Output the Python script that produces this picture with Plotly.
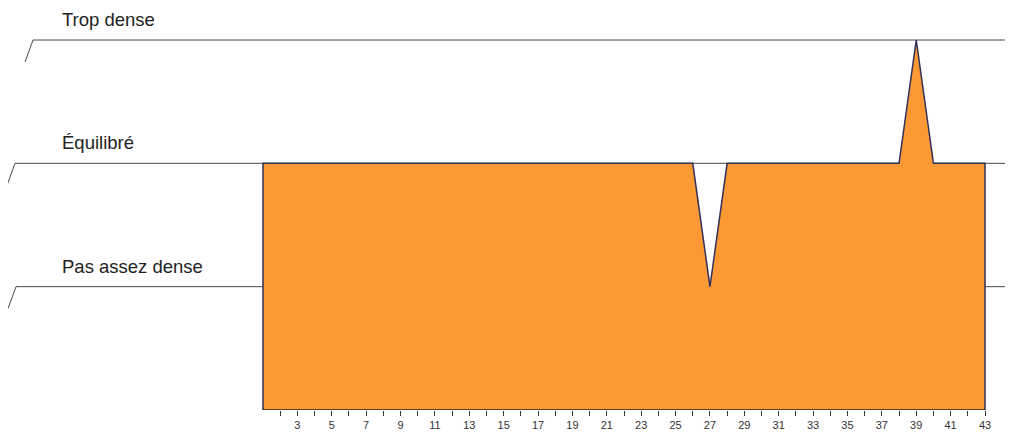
import plotly.graph_objects as go

# data
semaines = list(range(1, 44))
niveaux = [2] * 26 + [1] + [2] * 11 + [3] + [2] * 4
niveaux_noms = ["Pas assez dense", "Équilibré", "Trop dense"]
niveaux_valeurs = [1, 2, 3]
tick_vals = semaines[1:]
tick_text = [str(s) if s % 2 == 1 else "" for s in tick_vals]

# the page body has an 8px margin, so work in figure pixels = page pixels - 8
OFF = 8
W, H = 1013 - OFF, 432 - OFF
x_px_start, x_px_end = 263 - OFF, 985 - OFF
px_per_unit = (x_px_end - x_px_start) / (semaines[-1] - semaines[0])
x_min = semaines[0] - x_px_start / px_per_unit
x_max = semaines[-1] + (W - x_px_end) / px_per_unit

plot_h = 410 - OFF
top_px = 40 - OFF
px_per_y = (plot_h - top_px) / 3
y_max = 3 + top_px / px_per_y

orange = "#FD9935"
edge = "#30305a"
line_col = "#4a4a4a"
text_col = "#222222"

fig = go.Figure()

# closed polygon so the vertical edges of the area get an outline too
poly_x = [semaines[0]] + semaines + [semaines[-1]]
poly_y = [0] + niveaux + [0]
fig.add_trace(go.Scatter(x=poly_x, y=poly_y, mode="lines", fill="toself",
                         fillcolor=orange, line=dict(color=edge, width=1.5),
                         hoverinfo="skip", showlegend=False))

# reference levels with the little slanted start
line_starts = {3: 33 - OFF, 2: 15 - OFF, 1: 16 - OFF}
slant_dy = 22 / px_per_y
for nom, val in zip(niveaux_noms, niveaux_valeurs):
    x0 = line_starts[val] / W
    fig.add_shape(type="line", xref="paper", yref="y", x0=x0, x1=1, y0=val, y1=val,
                  line=dict(color=line_col, width=1), layer="below")
    fig.add_shape(type="line", xref="paper", yref="y", x0=x0 - 8 / W, x1=x0,
                  y0=val - slant_dy, y1=val, line=dict(color=line_col, width=1), layer="below")
    fig.add_annotation(text=nom, xref="paper", yref="y", x=(60 - OFF) / W, y=val,
                       xanchor="left", yanchor="bottom", yshift=8, showarrow=False,
                       font=dict(family="Liberation Sans, Arial", size=18.5, color=text_col))

# x axis line only under the data
fig.add_shape(type="line", xref="x", yref="y", x0=semaines[0], x1=semaines[-1], y0=0, y1=0,
              line=dict(color="#222222", width=1.5))

fig.update_layout(
    width=W, height=H, autosize=False,
    margin=dict(l=0, r=0, t=0, b=H - plot_h, pad=0),
    plot_bgcolor="white", paper_bgcolor="white",
    xaxis=dict(range=[x_min, x_max], showgrid=False, zeroline=False, showline=False,
               tickmode="array", tickvals=tick_vals, ticktext=tick_text,
               ticks="outside", ticklen=5, tickcolor="#333333", tickwidth=1,
               tickfont=dict(family="Liberation Sans, Arial", size=11, color="#333333")),
    yaxis=dict(range=[0, y_max], visible=False, showgrid=False, zeroline=False),
)

fig.write_html("out.html", config={"displayModeBar": False})
